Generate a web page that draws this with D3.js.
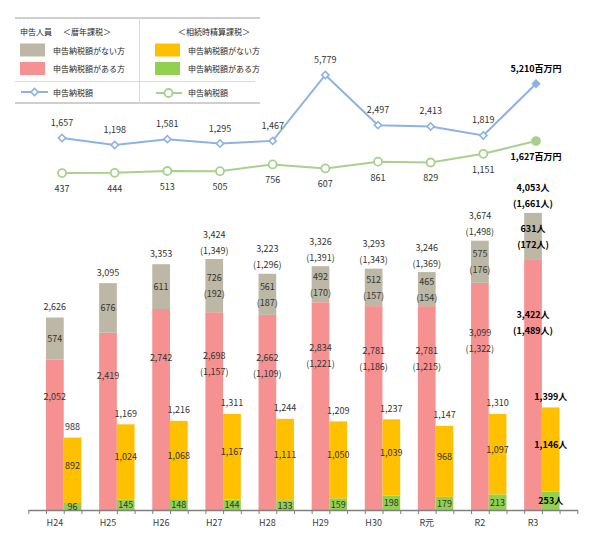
<!DOCTYPE html>
<html><head><meta charset="utf-8">
<script src="https://cdn.jsdelivr.net/npm/d3@7"></script>
<style>
body{margin:0;background:#fff}
svg{display:block}
text{font-family:"Noto Sans CJK JP","Noto Sans",sans-serif}
</style>
</head><body>
<svg id="c" width="605" height="547"></svg>
<script>
const categories = ["H24","H25","H26","H27","H28","H29","H30","R元","R2","R3"];
// 暦年課税
const calTaxed   = [2052,2419,2742,2698,2662,2834,2781,2781,3099,3422];
const calNoTax   = [574,676,611,726,561,492,512,465,575,631];
const calTotal   = [2626,3095,3353,3424,3223,3326,3293,3246,3674,4053];
const calTotalSub = [null,null,null,1349,1296,1391,1343,1369,1498,1661];
const calNoTaxSub = [null,null,null,192,187,170,157,154,176,172];
const calTaxedSub = [null,null,null,1157,1109,1221,1186,1215,1322,1489];
// 相続時精算課税
const setNoTax   = [892,1024,1068,1167,1111,1050,1039,968,1097,1146];
const setTaxed   = [96,145,148,144,133,159,198,179,213,253];
const setTotal   = [988,1169,1216,1311,1244,1209,1237,1147,1310,1399];
// 申告納税額（百万円）
const calTaxAmount = [1657,1198,1581,1295,1467,5779,2497,2413,1819,5210];
const setTaxAmount = [437,444,513,505,756,607,861,829,1151,1627];

const legendTitles = ["申告人員","＜暦年課税＞","＜相続時精算課税＞"];
const legendBarItems = ["申告納税額がない方","申告納税額がある方"];
const legendLineLabel = "申告納税額";

const C = {gray:"#BCB8A5", pink:"#F59191", yellow:"#FFC000", green:"#92D050",
           blue:"#8DB3E2", lgreen:"#A9D18E", text:"#333333", axis:"#808080"};

const svg = d3.select("#c");
const fmt = d3.format(",");
const last = categories.length - 1;

const x0 = d3.scaleBand().domain(categories).range([28.3,577.3]).paddingInner(1/3).paddingOuter(1/3);
const x1 = d3.scaleBand().domain(["cal","set"]).range([0, x0.bandwidth()]);
const y = d3.scaleLinear().domain([0,6000]).range([510,70.2]);
const xl = d3.scalePoint().domain(categories).range([62,536]);
const yBlue = d3.scaleLinear().domain([0,6000]).range([163.3,71.6]);
const yGreen = d3.scaleLinear().domain([0,2000]).range([184.8,131]);
const xs = d3.scaleLinear().domain([0,31]).range([28.3,577.3]);

function label(g, x, yc, txt, bold){
  g.append("text").attr("x",x).attr("y",yc)
   .attr("text-anchor","middle").attr("dominant-baseline","central")
   .attr("font-size",9).attr("fill", bold ? "#000" : C.text)
   .attr("font-weight", bold ? "bold" : "normal").text(txt);
}
function num(v,i){ return fmt(v) + (i===last ? "人" : ""); }
function sub(v,i){ return "(" + fmt(v) + (i===last ? "人" : "") + ")"; }

// bars
const bars = svg.append("g");
const bw = x1.bandwidth();
categories.forEach((c,i)=>{
  const xc = x0(c)+x1("cal"), xsx = x0(c)+x1("set");
  bars.append("rect").attr("x",xc).attr("width",bw).attr("y",y(calTaxed[i])).attr("height",y(0)-y(calTaxed[i])).attr("fill",C.pink);
  bars.append("rect").attr("x",xc).attr("width",bw).attr("y",y(calTotal[i])).attr("height",y(calTaxed[i])-y(calTotal[i])).attr("fill",C.gray);
  bars.append("rect").attr("x",xsx).attr("width",bw).attr("y",y(setTaxed[i])).attr("height",y(0)-y(setTaxed[i])).attr("fill",C.green);
  bars.append("rect").attr("x",xsx).attr("width",bw).attr("y",y(setTotal[i])).attr("height",y(setTaxed[i])-y(setTotal[i])).attr("fill",C.yellow);
});

// axis
const ax = svg.append("g").attr("transform","translate(0,510)")
  .call(d3.axisBottom(xs).tickValues(d3.range(32)).tickSize(4).tickSizeOuter(0).tickFormat(""));
ax.select(".domain").attr("stroke",C.axis).attr("stroke-width",1.5);
ax.selectAll(".tick line").attr("stroke",C.axis).attr("stroke-width",1);
categories.forEach(c=>{
  svg.append("text").attr("x",x0(c)+x1("cal")+bw/2).attr("y",522)
    .attr("text-anchor","middle").attr("dominant-baseline","central")
    .attr("font-size",9).attr("fill","#404040").text(c);
});

// bar labels
const lb = svg.append("g");
categories.forEach((c,i)=>{
  const b = i===last;
  const cx = x0(c)+x1("cal")+bw/2, sx = x0(c)+x1("set")+bw/2;
  const top = y(calTotal[i]), mid = y(calTaxed[i]);
  if (calTotalSub[i]==null){
    label(lb,cx,top-11,num(calTotal[i],i),b);
    label(lb,cx,(top+mid)/2,num(calNoTax[i],i),b);
    label(lb,cx,mid+0.22*(y(0)-mid)+4,num(calTaxed[i],i),b);
  } else {
    label(lb,cx,top-25,num(calTotal[i],i),b);
    label(lb,cx,top-9,sub(calTotalSub[i],i),b);
    label(lb,cx,(top+mid)/2-8,num(calNoTax[i],i),b);
    label(lb,cx,(top+mid)/2+8,sub(calNoTaxSub[i],i),b);
    const p = mid+0.22*(y(0)-mid);
    label(lb,cx,p,num(calTaxed[i],i),b);
    label(lb,cx,p+16,sub(calTaxedSub[i],i),b);
  }
  const st = y(setTotal[i]), sg = y(setTaxed[i]);
  label(lb,sx,st-11,num(setTotal[i],i),b);
  label(lb,sx,(st+sg)/2-5,num(setNoTax[i],i),b);
  label(lb,sx,(sg+y(0))/2,num(setTaxed[i],i),b);
});

// lines
const lineB = d3.line().x((d,i)=>xl(categories[i])).y(d=>yBlue(d));
const lineG = d3.line().x((d,i)=>xl(categories[i])).y(d=>yGreen(d));
svg.append("path").attr("d",lineB(calTaxAmount)).attr("fill","none").attr("stroke",C.blue).attr("stroke-width",2);
svg.append("path").attr("d",lineG(setTaxAmount)).attr("fill","none").attr("stroke",C.lgreen).attr("stroke-width",2);
const diamond = d3.symbol(d3.symbolSquare, 26);
calTaxAmount.forEach((v,i)=>{
  const x = xl(categories[i]), yy = yBlue(v), b = i===last;
  svg.append("path").attr("d",diamond()).attr("transform",`translate(${x},${yy}) rotate(45)`)
    .attr("fill", b ? C.blue : "#fff").attr("stroke",C.blue).attr("stroke-width",1.6);
  label(svg,x,yy-15.5, fmt(v)+(b?"百万円":""), b);
});
setTaxAmount.forEach((v,i)=>{
  const x = xl(categories[i]), yy = yGreen(v), b = i===last;
  svg.append("circle").attr("cx",x).attr("cy",yy).attr("r",4)
    .attr("fill", b ? C.lgreen : "#fff").attr("stroke",C.lgreen).attr("stroke-width",1.8);
  label(svg,x,yy+15.5, fmt(v)+(b?"百万円":""), b);
});

// legend
const lg = svg.append("g");
lg.append("line").attr("x1",15).attr("x2",260).attr("y1",18).attr("y2",18).attr("stroke","#BFBFBF").attr("stroke-width",1.5);
lg.append("line").attr("x1",15).attr("x2",260).attr("y1",103).attr("y2",103).attr("stroke","#BFBFBF").attr("stroke-width",1.5);
lg.append("line").attr("x1",15).attr("x2",255).attr("y1",81.5).attr("y2",81.5).attr("stroke","#D9D9D9").attr("stroke-width",1);
lg.append("line").attr("x1",139.5).attr("x2",139.5).attr("y1",18).attr("y2",103).attr("stroke","#D9D9D9").attr("stroke-width",1);
function ltext(x,yc,t){ lg.append("text").attr("x",x).attr("y",yc).attr("dominant-baseline","central").attr("font-size",8).attr("fill","#262626").text(t); }
ltext(20,31,legendTitles[0]);
ltext(63,31,legendTitles[1]);
ltext(178,31,legendTitles[2]);
[[C.gray,C.pink],[C.yellow,C.green]].forEach((cols,k)=>{
  const sx = k===0 ? 20 : 155, tx = k===0 ? 53 : 188;
  cols.forEach((col,j)=>{
    const yy = j===0 ? 50 : 68.5;
    lg.append("rect").attr("x",sx).attr("y",yy-6.5).attr("width",25).attr("height",13).attr("fill",col);
    ltext(tx,yy,legendBarItems[j]);
  });
});
lg.append("line").attr("x1",21).attr("x2",48).attr("y1",92).attr("y2",92).attr("stroke",C.blue).attr("stroke-width",2);
lg.append("path").attr("d",diamond()).attr("transform","translate(34.5,92) rotate(45)").attr("fill","#fff").attr("stroke",C.blue).attr("stroke-width",1.6);
ltext(53,92,legendLineLabel);
lg.append("line").attr("x1",156).attr("x2",182).attr("y1",93).attr("y2",93).attr("stroke",C.lgreen).attr("stroke-width",2);
lg.append("circle").attr("cx",168.5).attr("cy",93).attr("r",4).attr("fill","#fff").attr("stroke",C.lgreen).attr("stroke-width",1.8);
ltext(188,92,legendLineLabel);
</script>
</body></html>
